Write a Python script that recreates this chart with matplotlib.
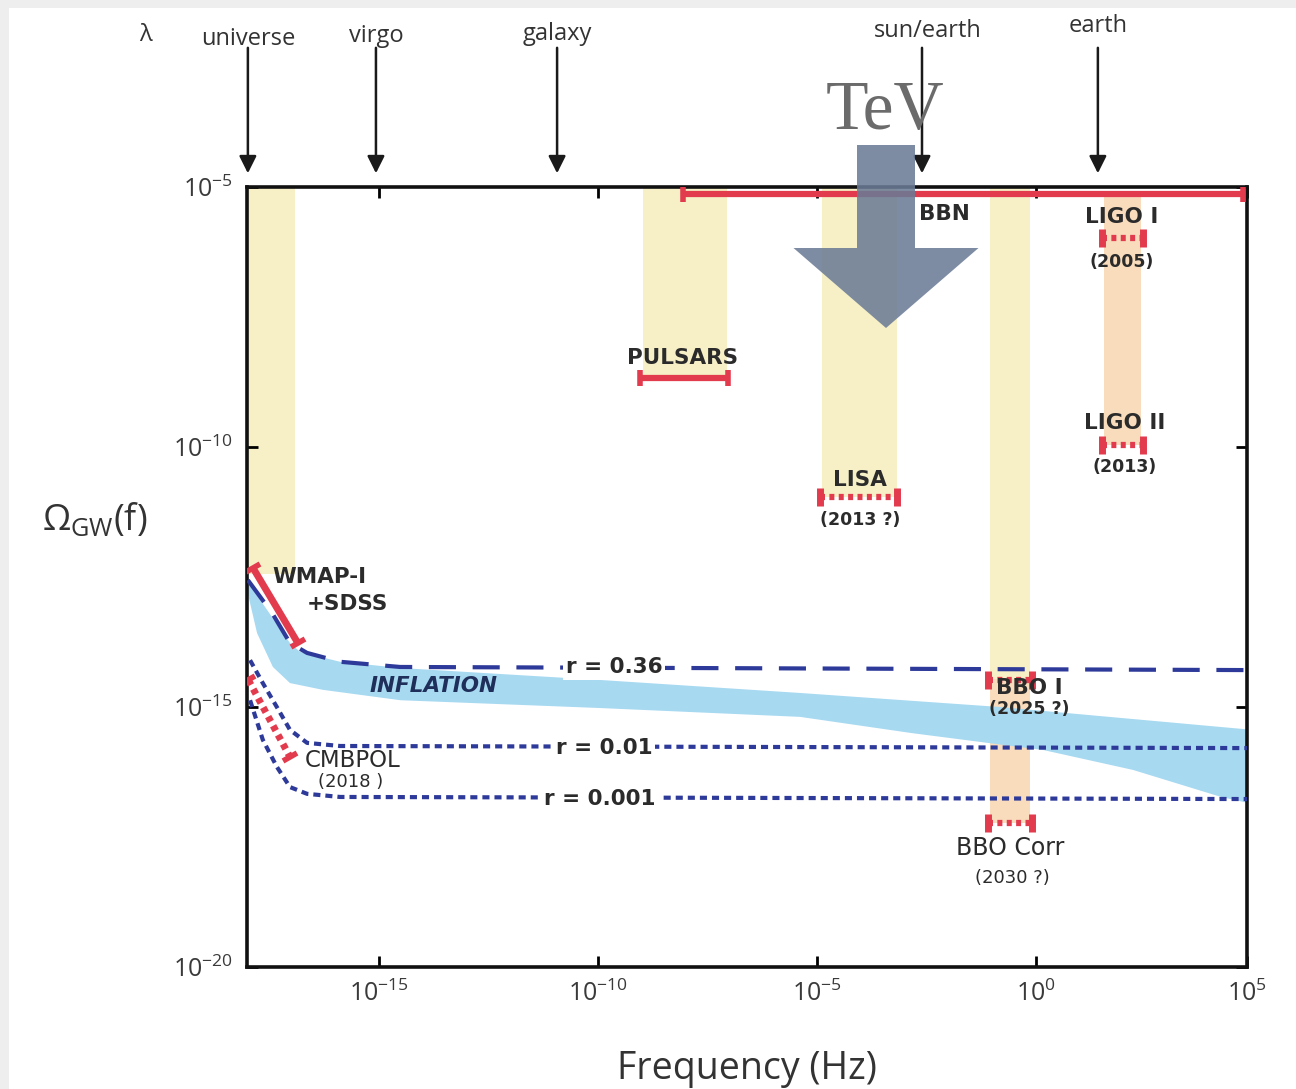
import numpy as np
import matplotlib
matplotlib.use("Agg")
import matplotlib.pyplot as plt
from matplotlib.patches import Rectangle, FancyArrow
from matplotlib.markers import MarkerStyle
from matplotlib.transforms import Affine2D

# --- data (log10 of frequency in Hz, log10 of Omega_GW) ---
# inflation band, upper and lower edge
infl_up_x = [-18.0, -17.7, -17.02, -16.79, -15.88, -14.5, -9.95, -5.39, -0.83, 4.8]
infl_up_y = [-12.46, -12.94, -13.77, -13.94, -14.13, -14.25, -14.48, -14.73, -15.0, -15.43]
infl_lo_x = [-18.0, -17.77, -17.41, -17.02, -16.27, -14.5, -9.95, -5.39, -2.86, 0.17, 2.2, 4.21, 4.8]
infl_lo_y = [-12.75, -13.58, -14.23, -14.54, -14.67, -14.87, -15.02, -15.19, -15.5, -15.83, -16.21, -16.73, -16.84]

# tensor-to-scalar ratio curves
r036_x = [-17.98, -17.43, -17.02, -16.63, -15.88, -14.51, 4.8]
r036_y = [-12.56, -13.19, -13.77, -13.96, -14.13, -14.23, -14.29]
r001_x = [-17.93, -17.64, -17.32, -17.02, -16.63, -15.88, 4.8]
r001_y = [-14.10, -14.54, -15.0, -15.44, -15.69, -15.75, -15.79]
r0001_x = [-17.93, -17.64, -17.32, -17.02, -16.63, -15.88, 4.8]
r0001_y = [-14.87, -15.63, -16.15, -16.54, -16.67, -16.73, -16.77]

# frequency windows of the experiments (shaded columns)
bands = {
    "universe": (-18.0, -16.9, -5.0, -12.45, "#f7f0c6"),
    "pulsars": (-8.97, -7.06, -5.0, -8.67, "#f7f0c6"),
    "lisa": (-4.89, -3.18, -5.0, -10.96, "#f7f0c6"),
    "bbo": (-1.06, -0.15, -5.0, -14.46, "#f7f0c6"),
    "bbo_corr": (-1.06, -0.15, -14.46, -17.23, "#f8dcbc"),
    "ligo": (1.54, 2.38, -5.15, -9.96, "#f8dcbc"),
}

# bounds: (x0, x1, y)
solid_limits = {"BBN": (-8.06, 4.72, -5.13), "PULSARS": (-9.04, -7.03, -8.67)}
dotted_limits = {
    "LISA": (-4.94, -3.18, -10.96),
    "LIGO I": (1.49, 2.43, -5.98),
    "LIGO II": (1.49, 2.43, -9.96),
    "BBO I": (-1.1, -0.1, -14.48),
    "BBO Corr": (-1.1, -0.1, -17.23),
}
wmap_x, wmap_y = [-17.86, -16.84], [-12.33, -13.77]
cmbpol_x, cmbpol_y = [-17.97, -17.02], [-14.48, -15.96]

# wavelength scale markers on top
lam_names = ["universe", "virgo", "galaxy", "sun/earth", "earth"]
lam_freq = [-17.98, -15.06, -10.93, -2.61, 1.40]
lam_text_x = [-17.98, -15.06, -10.93, -2.47, 1.40]
lam_text_y = [1.190, 1.193, 1.196, 1.200, 1.206]

RED = "#e23b4e"
NAVY = "#2e3a9a"
TXT = "#2b2b2b"
BOLD = ["Liberation Sans Narrow", "DejaVu Sans"]

plt.rcParams["font.family"] = ["Open Sans", "DejaVu Sans"]
plt.rcParams["mathtext.fontset"] = "custom"
plt.rcParams["mathtext.rm"] = "Open Sans"
plt.rcParams["mathtext.it"] = "Open Sans:italic"

L = lambda v: 10.0 ** np.asarray(v, dtype=float)

fig = plt.figure(figsize=(12.96, 10.89), dpi=100, facecolor="#eeeeee")
fig.patches.append(Rectangle((9 / 1296, 0), 1, 1 - 8 / 1089, transform=fig.transFigure,
                             fc="white", ec="none", zorder=-10))
ax = fig.add_axes([247 / 1296, 1 - 967 / 1089, 1000 / 1296, 780 / 1089])
ax.set_xscale("log")
ax.set_yscale("log")
ax.set_xlim(L(-18), L(4.8))
ax.set_ylim(L(-20), L(-5))

# shaded columns
for x0, x1, y0, y1, c in bands.values():
    ax.fill_between(L([x0, x1]), L(y1), L(y0), color=c, lw=0, zorder=1)

# inflation band
ax.fill(L(infl_up_x + infl_lo_x[::-1]), L(infl_up_y + infl_lo_y[::-1]),
        color="#a7d9f1", lw=0, zorder=2)

# r curves
ax.plot(L(r036_x), L(r036_y), color=NAVY, lw=3, ls=(0, (6.5, 4)), zorder=3)
ax.plot(L(r001_x), L(r001_y), color=NAVY, lw=3, ls=(0, (1.7, 1.2)), zorder=3)
ax.plot(L(r0001_x), L(r0001_y), color=NAVY, lw=3, ls=(0, (1.7, 1.2)), zorder=3)

# experimental limits
for x0, x1, y in solid_limits.values():
    ax.plot(L([x0, x1]), L([y, y]), color=RED, lw=4.5, solid_capstyle="butt", zorder=4)
    ax.plot(L([x0, x1]), L([y, y]), ls="none", marker="|", ms=11, mew=4, color=RED, zorder=4)
for x0, x1, y in dotted_limits.values():
    ax.plot(L([x0, x1]), L([y, y]), color=RED, lw=4.5, ls=(0, (0.8, 0.7)), zorder=4)
    ax.plot(L([x0, x1]), L([y, y]), ls="none", marker="|", ms=13, mew=5, color=RED, zorder=4)

cap = MarkerStyle("|", transform=Affine2D().rotate_deg(-59))
ax.plot(L(wmap_x), L(wmap_y), color=RED, lw=5, solid_capstyle="butt", zorder=4)
ax.plot(L(wmap_x), L(wmap_y), ls="none", marker=cap, ms=12, mew=4, color=RED, zorder=4)
ax.plot(L(cmbpol_x), L(cmbpol_y), color=RED, lw=5, ls=(0, (0.8, 0.7)), zorder=4)
ax.plot(L(cmbpol_x), L(cmbpol_y), ls="none", marker=cap, ms=12, mew=4, color=RED, zorder=4)

# labels
def lab(x, y, s, size=15.5, ha="center", weight="bold", style="normal", color=TXT, box=False):
    kw = dict(bbox=dict(fc="white", ec="none", pad=2)) if box else {}
    ax.text(L(x), L(y), s, ha=ha, va="center", fontsize=size, fontweight=weight,
            fontstyle=style, color=color, family=BOLD, zorder=6, **kw)

lab(-2.09, -5.52, "BBN")
lab(1.95, -5.58, "LIGO I")
lab(1.95, -6.44, "(2005)", size=12.5)
lab(-8.06, -8.29, "PULSARS")
lab(2.0, -9.54, "LIGO II")
lab(2.0, -10.38, "(2013)", size=12.5)
lab(-4.02, -10.63, "LISA")
lab(-4.02, -11.40, "(2013 ?)", size=12.5)
lab(-17.43, -12.50, "WMAP-I", ha="left")
lab(-16.63, -13.02, "+SDSS", ha="left")
lab(-9.63, -14.23, "r = 0.36", box=True)
lab(-13.74, -14.60, "INFLATION", style="italic", color="#1f2f5a")
lab(-0.92, -14.64, "BBO I", ha="left")
lab(-1.08, -15.04, "(2025 ?)", size=12.5, ha="left")
lab(-9.86, -15.79, "r = 0.01", box=True)
lab(-16.68, -16.02, "CMBPOL", ha="left", weight="normal", size=16.5)
lab(-16.38, -16.44, "(2018 )", size=13, ha="left", weight="normal")
lab(-9.95, -16.77, "r = 0.001", box=True)
lab(-0.6, -17.71, "BBO Corr", weight="normal", size=17)
lab(-0.56, -18.29, "(2030 ?)", size=13, weight="normal")

# axes styling
for s in ax.spines.values():
    s.set_linewidth(2.6)
    s.set_color("#111111")
ax.set_xticks(L([-15, -10, -5, 0, 4.8]))
ax.set_xticklabels([r"$10^{-15}$", r"$10^{-10}$", r"$10^{-5}$", r"$10^{0}$", r"$10^{5}$"])
ax.set_yticks(L([-20, -15, -10, -5]))
ax.set_yticklabels([r"$10^{-20}$", r"$10^{-15}$", r"$10^{-10}$", r"$10^{-5}$"])
ax.minorticks_off()
ax.tick_params(direction="in", length=8, width=2, top=True, right=True,
               labelsize=18, labelcolor="#3a3a3a", pad=10)
ax.set_xlabel("Frequency (Hz)", fontsize=27, color="#333333", labelpad=31)
fig.text(95 / 1296, 1 - 520 / 1089, r"$\Omega_{\mathrm{GW}}$(f)", fontsize=26,
         color="#333333", ha="center", va="center")

# wavelength arrows
tr = ax.get_xaxis_transform()
for name, fx, tx, ty in zip(lam_names, lam_freq, lam_text_x, lam_text_y):
    ax.annotate("", xy=(L(fx), 1.014), xytext=(L(fx), 1.182), xycoords=tr, textcoords=tr,
                arrowprops=dict(arrowstyle="-|>", color="#1a1a1a", lw=1.8, mutation_scale=26),
                annotation_clip=False)
    ax.text(L(tx), ty, name, transform=tr, ha="center", va="center", fontsize=17,
            color="#333333", clip_on=False)
fig.text(145 / 1296, 1 - 35 / 1089, "λ", fontsize=17, color="#333333", ha="center", va="center")

# TeV marker
fig.text(885 / 1296, 1 - 112 / 1089, "TeV", fontsize=50, family=["Liberation Serif", "DejaVu Serif"],
         color="#6b6b6b", ha="center", va="center")
fig.add_artist(FancyArrow(886 / 1296, 1 - 145 / 1089, 0, -(328 - 145) / 1089,
                          width=58 / 1296, head_width=185 / 1296, head_length=80 / 1089,
                          length_includes_head=True, transform=fig.transFigure,
                          fc="#6a7b96", ec="none", alpha=0.87, zorder=20))

fig.savefig("out.png", dpi=100, facecolor=fig.get_facecolor())
